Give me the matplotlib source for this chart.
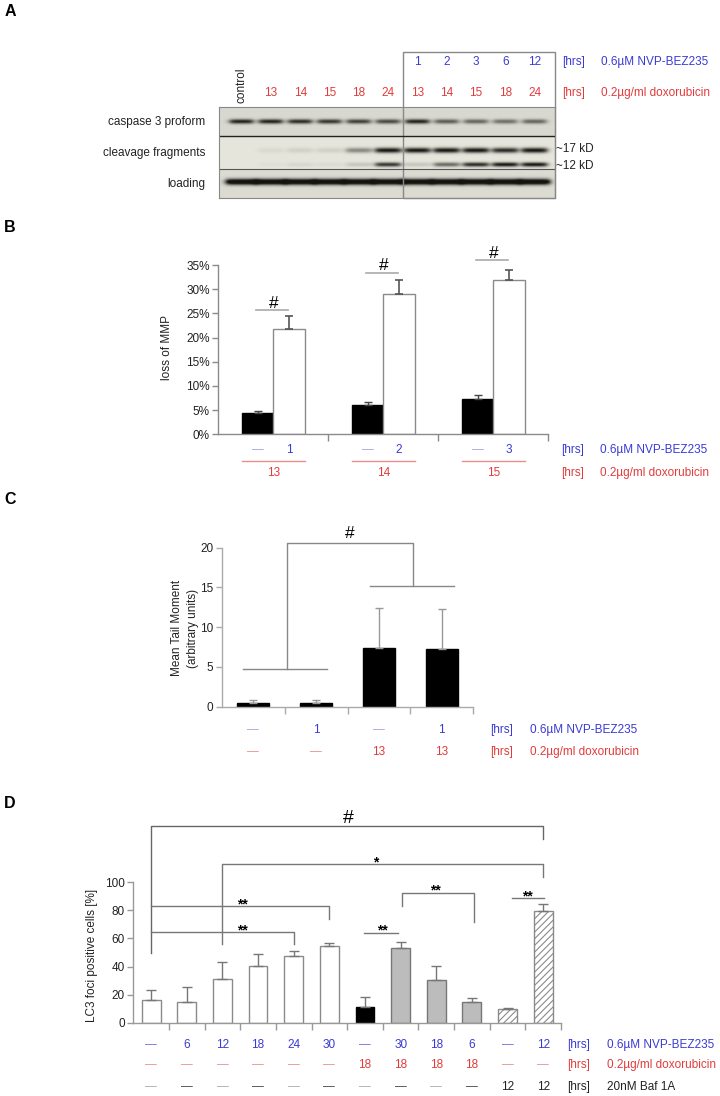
import numpy as np
import matplotlib
matplotlib.use("Agg")
import matplotlib.pyplot as plt
from matplotlib import transforms
from matplotlib.patches import Rectangle
from matplotlib.ticker import FuncFormatter

plt.rcParams['font.family'] = ['Liberation Sans', 'DejaVu Sans']
plt.rcParams['hatch.linewidth'] = 0.8

W, H = 720, 1096
FS = 8.5

BLUE = '#3a3ad6'
RED = '#e23b3b'
BLUE_DASH = '#a3a3e3'
RED_DASH = '#e98f8f'

# ---- A: western blot (band intensities, 0..1) ----
lane_labels = ['control', '13', '14', '15', '18', '24', '13', '14', '15', '18', '24']
a_nvp_hours = ['1', '2', '3', '6', '12']          # boxed lanes 6-10
row_labels = ['caspase 3 proform', 'cleavage fragments', 'loading']
proform_int = [0.95, 0.95, 0.9, 0.85, 0.8, 0.75, 0.95, 0.65, 0.6, 0.55, 0.6]
frag17_int = [0.0, 0.06, 0.1, 0.1, 0.45, 1.0, 1.0, 1.0, 1.0, 0.9, 1.0]
frag12_int = [0.0, 0.03, 0.07, 0.05, 0.15, 0.85, 0.15, 0.6, 0.9, 1.0, 1.0]
loading_int = [1.3] * 11

# ---- B: loss of MMP ----
b_nvp = ['1', '2', '3']
b_doxo = ['13', '14', '15']
b_doxo_only = [4.4, 6.0, 7.4]
b_doxo_only_err = [0.4, 0.6, 0.75]
b_combo = [21.8, 29.0, 31.9]
b_combo_err = [2.7, 2.9, 2.1]
b_sig_y = [25.6, 33.4, 36.0]

# ---- C: comet assay ----
c_nvp = ['—', '1', '—', '1']
c_doxo = ['—', '—', '13', '13']
c_tail = [0.45, 0.45, 7.38, 7.32]
c_tail_err = [0.35, 0.35, 5.0, 4.95]

# ---- D: LC3 foci ----
d_nvp = ['—', '6', '12', '18', '24', '30', '—', '30', '18', '6', '—', '12']
d_doxo = ['—'] * 6 + ['18'] * 4 + ['—', '—']
d_baf = ['—'] * 10 + ['12', '12']
d_lc3 = [16.2, 14.5, 31.4, 40.6, 47.7, 54.9, 10.9, 53.0, 30.2, 14.5, 9.5, 79.3]
d_lc3_err = [6.8, 10.9, 11.6, 8.6, 3.6, 1.6, 7.2, 4.2, 10.4, 2.8, 0.7, 5.0]
# x_left, x_right, top, left end, right end, label, label x
d_brackets = [
    (0, 11, 139.9, 49.9, 130.6, '#', 5.53),
    (2, 11, 112.8, 56.1, 104.0, '*', 6.31),
    (0, 5, 83.1, 83.1, 73.9, '**', 2.57),
    (0, 4, 64.6, 64.6, 56.3, '**', 2.57),
    (5.98, 6.92, 64.1, 64.1, 64.1, '**', 6.5),
    (7.03, 9.06, 92.6, 83.1, 71.5, '**', 7.98),
    (10.12, 11.03, 88.6, 88.6, 88.6, '**', 10.56),
]

fig = plt.figure(figsize=(W / 100, H / 100), dpi=100)
pxT = transforms.Affine2D().scale(1 / W, -1 / H).translate(0, 1) + fig.transFigure


def add_ax(x0, y0, x1, y1):
    ax = fig.add_axes([x0 / W, 1 - y1 / H, (x1 - x0) / W, (y1 - y0) / H])
    ax.patch.set_visible(False)
    return ax


def ftext(x, y, s, **kw):
    kw.setdefault('fontsize', FS)
    kw.setdefault('va', 'center')
    kw.setdefault('color', '#222222')
    fig.text(x, y, s, transform=pxT, **kw)


def style_axes(ax, color):
    for s in ['top', 'right']:
        ax.spines[s].set_visible(False)
    for s in ['left', 'bottom']:
        ax.spines[s].set_color(color)
        ax.spines[s].set_linewidth(1)
    ax.tick_params(axis='y', direction='out', length=4, width=1, color=color,
                   labelsize=FS, labelcolor='#222222', pad=2)
    ax.tick_params(axis='x', direction='out', length=5, width=1, color=color,
                   labelbottom=False)


def right_labels(x_hrs, x_lab, rows):
    for y, col, lab in rows:
        ftext(x_hrs, y, '[hrs]', color=col)
        ftext(x_lab, y, lab, color=col)


NVP = '0.6µM NVP-BEZ235'
DOXO = '0.2µg/ml doxorubicin'

# panel letters
for lab, y in [('A', 12), ('B', 228), ('C', 500), ('D', 804)]:
    ftext(10, y, lab, ha='center', fontsize=11.5, fontweight='bold', color='black')

# ================= A =================
axA = add_ax(219.3, 106.7, 555, 197.7)
x_left, x_right = -0.76, 10.69
xs = np.linspace(x_left, x_right, 680)
ys = np.linspace(0, 91, 182)
X, Y = np.meshgrid(xs, ys)
dark = np.zeros_like(X)
for vals, yc, th, half in [(proform_int, 14.3, 2.3, 0.40),
                           (frag17_int, 43.3, 2.6, 0.43),
                           (frag12_int, 57.6, 2.2, 0.43),
                           (loading_int, 75.0, 3.0, 0.53)]:
    for i, v in enumerate(vals):
        gx = 1 / (1 + np.exp((np.abs(X - i) - half) / 0.06))
        dark += v * gx * np.exp(-((Y - yc) / th) ** 2)
dark = np.clip(dark, 0, 1)
bg = np.where(Y < 29, 0.85, np.where(Y < 62.6, 0.90, 0.86))
img = np.stack([bg * (1 - dark) + 0.08 * dark,
                bg * (1 - dark) + 0.08 * dark,
                0.96 * bg * (1 - dark) + 0.06 * dark], axis=-1)
axA.imshow(img, extent=(x_left, x_right, 91, 0), aspect='auto', interpolation='bilinear')
axA.set_xlim(x_left, x_right)
axA.set_ylim(91, 0)
axA.axhline(29, color='#222222', lw=1)
axA.axhline(62.6, color='#555555', lw=0.8)
axA.set_xticks([])
axA.set_yticks([])
for sp in axA.spines.values():
    sp.set_color('#888888')

bA = transforms.blended_transform_factory(axA.transData, pxT)
for i, lab in enumerate(lane_labels):
    if i == 0:
        axA.text(i, 103.3, lab, transform=bA, rotation=90, ha='center', va='bottom',
                 fontsize=FS, color='#222222')
    else:
        axA.text(i, 93.3, lab, transform=bA, ha='center', va='center', fontsize=FS, color=RED)
for i, lab in enumerate(a_nvp_hours):
    axA.text(6 + i, 61.7, lab, transform=bA, ha='center', va='center', fontsize=FS, color=BLUE)
axA.add_patch(Rectangle((5.5, 52), x_right - 5.5, 197.7 - 52, transform=bA, fill=False,
                        ec='#888888', lw=1, clip_on=False))
for lab, y in zip(row_labels, [121.7, 153.3, 184.3]):
    ftext(205, y, lab, ha='right')
ftext(556, 149.3, '~17 kD')
ftext(556, 166, '~12 kD')
right_labels(562, 601, [(61.7, BLUE, NVP), (93.3, RED, DOXO)])

# ================= B =================
axB = add_ax(218.3, 265, 548.3, 434.3)
xb = np.arange(len(b_nvp))
bw = 0.286
axB.bar(xb - bw / 2, b_doxo_only, bw, color='black', edgecolor='black', lw=1, zorder=2)
axB.bar(xb + bw / 2, b_combo, bw, color='white', edgecolor='#8a8a8a', lw=1, zorder=2)
axB.errorbar(xb - bw / 2, b_doxo_only, yerr=[np.zeros(3), b_doxo_only_err], fmt='none',
             ecolor='#444444', elinewidth=1, capsize=2.8, capthick=1, zorder=3)
axB.errorbar(xb + bw / 2, b_combo, yerr=[np.zeros(3), b_combo_err], fmt='none',
             ecolor='#555555', elinewidth=1.2, capsize=2.8, capthick=1.2, zorder=3)
axB.set_xlim(-0.5, 2.5)
axB.set_ylim(0, 35)
axB.set_yticks(range(0, 36, 5))
axB.yaxis.set_major_formatter(FuncFormatter(lambda v, p: f'{v:.0f}%'))
axB.set_xticks([0.5, 1.5, 2.5])
style_axes(axB, '#8a8a8a')
for g, y in enumerate(b_sig_y):
    axB.plot([g - 0.16, g + 0.13], [y, y], color='#aaaaaa', lw=1.2, clip_on=False)
    axB.text(g, y + 1.4, '#', ha='center', va='center', fontsize=12.5, clip_on=False)
bB = transforms.blended_transform_factory(axB.transData, pxT)
for g in xb:
    axB.text(g - bw / 2, 450, '—', transform=bB, ha='center', va='center', fontsize=FS, color=BLUE_DASH)
    axB.text(g + bw / 2, 450, b_nvp[g], transform=bB, ha='center', va='center', fontsize=FS, color=BLUE)
    axB.plot([g - bw, g + bw], [460.7, 460.7], transform=bB, color=RED_DASH, lw=1, clip_on=False)
    axB.text(g, 473.3, b_doxo[g], transform=bB, ha='center', va='center', fontsize=FS, color=RED)
ftext(167.3, 348, 'loss of MMP', rotation=90, ha='center')
right_labels(561, 600, [(450, BLUE, NVP), (473.3, RED, DOXO)])

# ================= C =================
axC = add_ax(221.7, 547.7, 473.3, 706.7)
xc = np.arange(len(c_tail))
axC.bar(xc, c_tail, 0.5, color='black', edgecolor='black', zorder=2)
axC.errorbar(xc, c_tail, yerr=[np.zeros(4), c_tail_err], fmt='none', ecolor='#999999',
             elinewidth=1, capsize=2.8, capthick=1, zorder=3)
axC.set_xlim(-0.5, 3.5)
axC.set_ylim(0, 20)
axC.set_yticks(range(0, 21, 5))
axC.set_xticks([0.5, 1.5, 2.5, 3.5])
style_axes(axC, '#aaaaaa')
bracket_c = dict(color='#888888', lw=1, clip_on=False)
axC.plot([-0.157, 1.169], [4.7, 4.7], **bracket_c)
axC.plot([0.533, 0.533, 2.546, 2.546], [4.7, 20.55, 20.55, 15.22], **bracket_c)
axC.plot([1.858, 3.193], [15.22, 15.22], **bracket_c)
axC.text(1.54, 21.8, '#', ha='center', va='center', fontsize=12.5, clip_on=False)
bC = transforms.blended_transform_factory(axC.transData, pxT)
for i in xc:
    axC.text(i, 730, c_nvp[i], transform=bC, ha='center', va='center', fontsize=FS,
             color=BLUE_DASH if c_nvp[i] == '—' else BLUE)
    axC.text(i, 751.7, c_doxo[i], transform=bC, ha='center', va='center', fontsize=FS,
             color=RED_DASH if c_doxo[i] == '—' else RED)
ftext(176.7, 628.3, 'Mean Tail Moment', rotation=90, ha='center')
ftext(193.3, 628.3, '(arbitrary units)', rotation=90, ha='center')
right_labels(490, 530, [(730, BLUE, NVP), (751.7, RED, DOXO)])

# ================= D =================
axD = add_ax(133.3, 882.3, 561, 1022.7)
xd = np.arange(len(d_lc3))
d_style = ['open'] * 6 + ['black'] + ['gray'] * 3 + ['hatch'] * 2
looks = {
    'open': dict(color='white', edgecolor='#8a8a8a'),
    'black': dict(color='black', edgecolor='black'),
    'gray': dict(color='#bcbcbc', edgecolor='#777777'),
    'hatch': dict(color='white', edgecolor='#8a8a8a', hatch='/////'),
}
for i in xd:
    axD.bar(i, d_lc3[i], 0.53, lw=1, zorder=2, **looks[d_style[i]])
axD.errorbar(xd, d_lc3, yerr=[np.zeros(len(xd)), d_lc3_err], fmt='none', ecolor='#777777',
             elinewidth=1, capsize=3.4, capthick=1, zorder=3)
axD.set_xlim(-0.5, 11.5)
axD.set_ylim(0, 100)
axD.set_yticks(range(0, 101, 20))
axD.set_xticks(np.arange(0.5, 12, 1))
style_axes(axD, '#999999')
for x0, x1, top, y0, y1, lab, lx in d_brackets:
    col = '#666666' if lab == '#' else '#777777'
    axD.plot([x0, x0, x1, x1], [y0, top, top, y1], color=col, lw=1, clip_on=False)
    if lab == '#':
        axD.text(lx, top + 5.7, lab, ha='center', va='center', fontsize=14, clip_on=False)
    else:
        axD.text(lx, top + 1.4, lab, ha='center', va='center', fontsize=10,
                 fontweight='bold', clip_on=False)
bD = transforms.blended_transform_factory(axD.transData, pxT)
for i in xd:
    axD.text(i, 1045, d_nvp[i], transform=bD, ha='center', va='center', fontsize=FS,
             color='#7070dc' if d_nvp[i] == '—' else BLUE)
    axD.text(i, 1065, d_doxo[i], transform=bD, ha='center', va='center', fontsize=FS,
             color=RED_DASH if d_doxo[i] == '—' else RED)
    if d_baf[i] == '—':
        bcol = '#aaaaaa' if i % 2 == 0 else '#444444'
    else:
        bcol = '#222222'
    axD.text(i, 1087, d_baf[i], transform=bD, ha='center', va='center', fontsize=FS, color=bcol)
ftext(91.7, 955, 'LC3 foci positive cells [%]', rotation=90, ha='center')
right_labels(566.7, 607, [(1045, BLUE, NVP), (1065, RED, DOXO), (1087, '#222222', '20nM Baf 1A')])

fig.savefig('out.png', dpi=100)
